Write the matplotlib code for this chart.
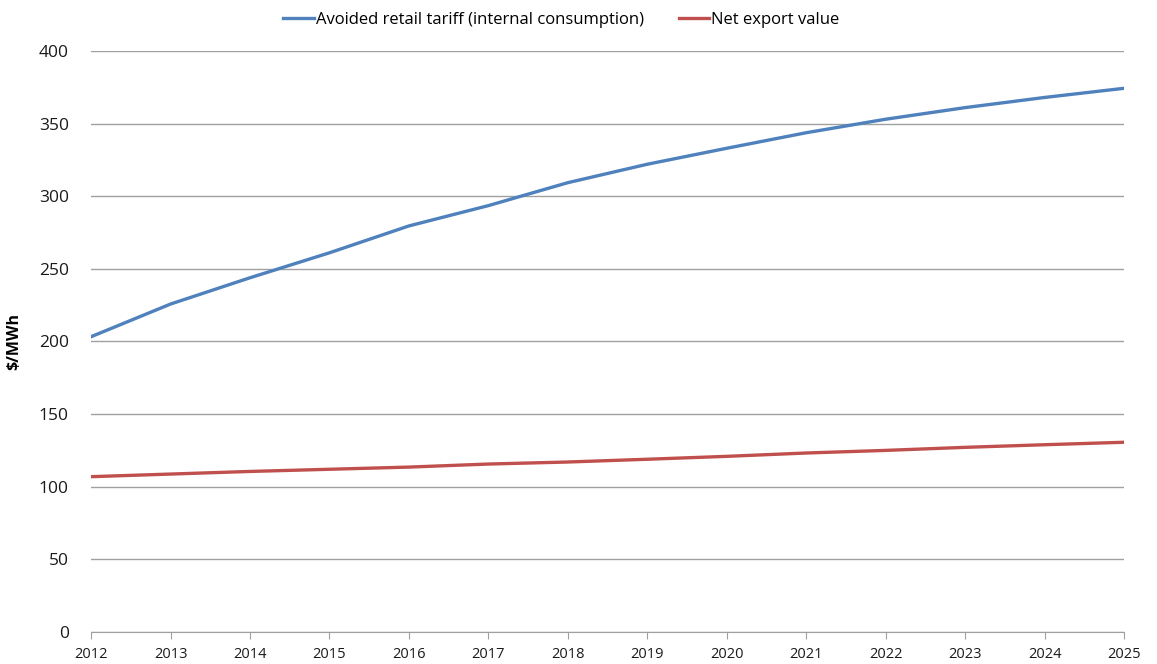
import matplotlib.pyplot as plt

plt.rcParams['font.family'] = ['Open Sans', 'DejaVu Sans']

years = list(range(2012, 2026))
avoided_tariff = [203.2, 225.7, 243.8, 261.0, 279.5, 293.5, 309.3, 322.0,
                  333.0, 343.7, 353.0, 361.0, 368.0, 374.3]
net_export = [106.8, 108.6, 110.4, 111.9, 113.4, 115.5, 116.9, 118.8,
              120.8, 123.1, 124.9, 127.0, 128.8, 130.5]
yticks = [0, 50, 100, 150, 200, 250, 300, 350, 400]

fig = plt.figure(figsize=(11.57, 6.64), dpi=100)
ax = fig.add_axes([0.0787, 0.0486, 0.8928, 0.8746])

ax.plot(years, avoided_tariff, color='#4F81BD', lw=2.4,
        label='Avoided retail tariff (internal consumption)', zorder=3)
ax.plot(years, net_export, color='#C0504D', lw=2.4,
        label='Net export value', zorder=3)

ax.set_xlim(years[0], years[-1])
ax.set_ylim(0, 400)
ax.set_yticks(yticks)
ax.set_xticks(years)

ax.grid(axis='y', color='#a0a0a0', lw=1)
ax.set_axisbelow(True)
for side in ['top', 'right', 'left']:
    ax.spines[side].set_visible(False)
ax.spines['bottom'].set_color('#a0a0a0')

ax.tick_params(axis='y', length=0, pad=16, labelsize=12.5, labelcolor='#1a1a1a')
ax.tick_params(axis='x', length=5, color='#a0a0a0', pad=6, labelsize=10.5,
               labelcolor='#1a1a1a')

ax.set_ylabel('$/MWh', fontsize=11.5, fontweight='bold', labelpad=12)

fig.legend(loc='upper center', bbox_to_anchor=(0.485, 1.005), ncol=2,
           frameon=False, fontsize=12, handlelength=1.85, handletextpad=0.1,
           columnspacing=2.1)

fig.savefig('out.png', dpi=100)
